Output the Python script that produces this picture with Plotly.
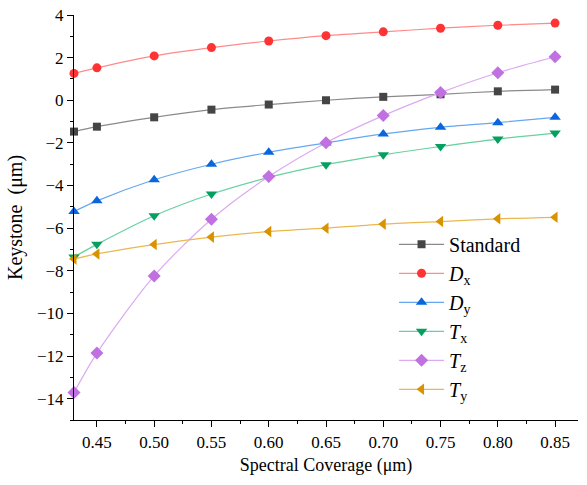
"""Keystone vs spectral coverage."""

import plotly.graph_objects as go

coverage = [0.43, 0.45, 0.50, 0.55, 0.60, 0.65, 0.70, 0.75, 0.80, 0.85]

standard = [-1.47, -1.24, -0.80, -0.44, -0.20, 0.00, 0.16, 0.28, 0.42, 0.50]
dx = [1.26, 1.52, 2.08, 2.47, 2.78, 3.03, 3.21, 3.38, 3.52, 3.62]
dy = [-5.22, -4.72, -3.73, -3.00, -2.44, -2.00, -1.58, -1.27, -1.05, -0.80]
tx = [-7.35, -6.76, -5.42, -4.40, -3.62, -3.02, -2.56, -2.17, -1.82, -1.54]
tz = [-13.71, -11.86, -8.24, -5.58, -3.58, -1.99, -0.72, 0.36, 1.29, 2.04]
ty = [-7.45, -7.21, -6.77, -6.42, -6.16, -6.00, -5.81, -5.69, -5.56, -5.49]

names = ["Standard", "<i>D</i><sub>x</sub>", "<i>D</i><sub>y</sub>",
         "<i>T</i><sub>x</sub>", "<i>T</i><sub>z</sub>", "<i>T</i><sub>y</sub>"]

# (values, marker symbol, marker size, marker colour, line colour)
series = [
    (standard, "square", 8, "#454545", "#8a8a8a"),
    (dx, "circle", 9, "#ff3333", "#ff8a8a"),
    (dy, "triangle-up", 10, "#0a66dd", "#66a8f0"),
    (tx, "triangle-down", 10, "#05a060", "#66d0a0"),
    (tz, "diamond", 10, "#c070e0", "#dcaaf0"),
    (ty, "triangle-left", 10, "#d99200", "#eab850"),
]

SERIF = "Liberation Serif"

fig = go.Figure()
for name, (vals, sym, size, mcol, lcol) in zip(names, series):
    fig.add_trace(go.Scatter(
        x=coverage, y=vals, name=name,
        mode="lines+markers",
        line=dict(color=lcol, width=1.2, shape="spline", smoothing=0.8),
        marker=dict(symbol=sym, color=mcol, size=size, line=dict(width=0)),
        cliponaxis=False,
    ))

fig.update_layout(
    width=587, height=485,
    margin=dict(l=74, r=9, t=15, b=65),
    plot_bgcolor="white", paper_bgcolor="white",
    font=dict(family=SERIF, size=16, color="black"),
    showlegend=True,
    legend=dict(
        x=0.635, y=0.482, xanchor="left", yanchor="top",
        bgcolor="rgba(0,0,0,0)",
        font=dict(family=SERIF, size=20, color="black"),
        tracegroupgap=0, itemwidth=45,
    ),
)

fig.update_xaxes(
    range=[0.43, 0.87], automargin=False,
    tick0=0.45, dtick=0.05, tickformat=".2f",
    showline=True, linecolor="black", linewidth=1.2,
    ticks="outside", ticklen=6, tickcolor="black",
    minor=dict(ticks="outside", ticklen=3, dtick=0.025, tick0=0.45, tickcolor="black"),
    showgrid=False, zeroline=False,
    tickfont=dict(family=SERIF, size=17, color="black"),
    title=dict(text="Spectral Coverage (μm)",
               font=dict(family=SERIF, size=18, color="black"), standoff=7),
)
fig.update_yaxes(
    range=[-15, 4], automargin=False,
    tick0=0, dtick=2,
    showline=True, linecolor="black", linewidth=1.2,
    ticks="outside", ticklen=6, tickcolor="black",
    minor=dict(ticks="outside", ticklen=3, dtick=1, tickcolor="black"),
    showgrid=False, zeroline=False,
    tickfont=dict(family=SERIF, size=17, color="black"),
    title=dict(text="Keystone  (μm)",
               font=dict(family=SERIF, size=20, color="black"), standoff=8),
)

# drop the page's default body margin so the figure sits at the window corner
fig.write_html(
    "out.html",
    config={"displayModeBar": False},
    post_script="document.body.style.margin = '0';",
)
